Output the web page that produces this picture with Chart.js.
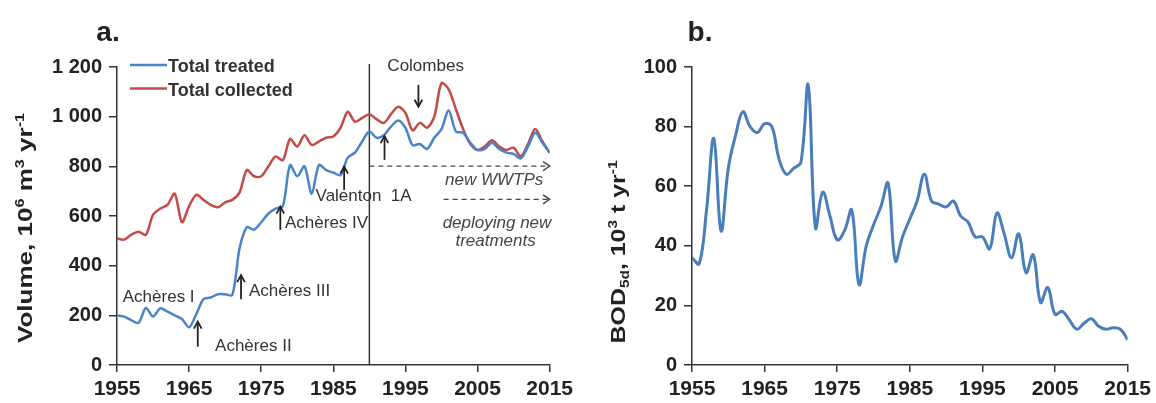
<!DOCTYPE html>
<html>
<head>
<meta charset="utf-8">
<script src="https://cdn.jsdelivr.net/npm/chart.js@4.4.0/dist/chart.umd.min.js"></script>
<style>
  body { margin: 0; background: #fff; }
  #wrap { position: relative; width: 1156px; height: 403px; }
  #chartA { position: absolute; left: 0; top: 0; }
  #chartB { position: absolute; left: 578px; top: 0; }
</style>
</head>
<body>
<div id="wrap">
  <canvas id="chartA" width="578" height="403"></canvas>
  <canvas id="chartB" width="578" height="403"></canvas>
</div>
<script>
var years = [1955, 1956, 1957, 1958, 1959, 1960, 1961, 1962, 1963, 1964,
  1965, 1966, 1967, 1968, 1969, 1970, 1971, 1972, 1973, 1974,
  1975, 1976, 1977, 1978, 1979, 1980, 1981, 1982, 1983, 1984,
  1985, 1986, 1987, 1988, 1989, 1990, 1991, 1992, 1993, 1994,
  1995, 1996, 1997, 1998, 1999, 2000, 2001, 2002, 2003, 2004,
  2005, 2006, 2007, 2008, 2009, 2010, 2011, 2012, 2013, 2014, 2015];

// 10^6 m3 / yr
var treated = [200, 195, 180, 170, 230, 195, 228, 215, 200, 185,
  152, 205, 265, 272, 285, 285, 282, 470, 555, 545,
  575, 610, 630, 640, 805, 760, 800, 690, 805, 785,
  775, 765, 835, 855, 900, 940, 915, 925, 960, 985,
  955, 885, 890, 870, 915, 950, 1025, 940, 935, 895,
  866, 870, 895, 870, 855, 850, 832, 880, 935, 895, 855];
var collected = [510, 505, 525, 537, 524, 605, 630, 645, 690, 575,
  640, 685, 665, 645, 635, 655, 665, 695, 785, 760,
  760, 800, 840, 825, 910, 880, 925, 886, 900, 915,
  920, 955, 1020, 980, 995, 1010, 990, 975, 1010, 1040,
  1015, 945, 975, 955, 1000, 1135, 1110, 1030, 950, 890,
  866, 880, 905, 880, 866, 875, 840, 890, 950, 900, 855];

// 10^3 t / yr
var bod = [36, 34, 52, 76, 45, 66, 77, 85, 80, 78,
  81, 80, 69, 64, 66, 68, 94, 46, 58, 50,
  42, 45, 52, 27, 40, 47, 53, 61, 35, 43,
  49, 55, 64, 55, 54, 53, 55, 50, 48, 43,
  43, 39, 51, 44, 36, 44, 31, 37, 21, 26,
  17, 18, 15, 12, 14, 15.5, 13, 12, 12.5, 12, 8.5];

var yearTicks = [1955, 1965, 1975, 1985, 1995, 2005, 2015];
var volumeTicks = [0, 200, 400, 600, 800, 1000, 1200];
var bodTicks = [0, 20, 40, 60, 80, 100];

// annotations: [year, from, to]
var upArrows = [[1966.2, 74, 175], [1972.2, 265, 362], [1977.65, 544, 638], [1986.5, 705, 799], [1992.1, 826, 922]];
var downArrows = [[1996.8, 1128, 1040]];
var labels = [
  ['Achères I', 1955.8, 272, 'left'],
  ['Achères II', 1968.6, 74, 'left'],
  ['Achères III', 1973.3, 295, 'left'],
  ['Achères IV', 1978.3, 571, 'left'],
  ['Valenton  1A', 1989.2, 678, 'center'],
  ['Colombes', 1997.8, 1201, 'center']
];
var italicLabels = [
  ['new WWTPs', 2007.3, 742],
  ['deploying new', 2007.7, 571],
  ['treatments', 2007.5, 497]
];
var dashedArrows = [[1990, 2015, 801], [2000.3, 2015, 667]];

var fam = "'Liberation Sans', Arial, sans-serif";
Chart.defaults.font.family = fam;
Chart.defaults.color = '#222';

function pts(ys) {
  return years.map(function(yr, i) { return {x: yr, y: ys[i]}; });
}

function spaced(v) {
  return String(v).replace(/\B(?=(\d{3})+(?!\d))/g, ' ');
}

function head(ctx, x1, y1, x2, y2, len, ang) {
  var a = Math.atan2(y2 - y1, x2 - x1);
  ctx.beginPath();
  ctx.moveTo(x2 - len * Math.cos(a - ang), y2 - len * Math.sin(a - ang));
  ctx.lineTo(x2, y2);
  ctx.lineTo(x2 - len * Math.cos(a + ang), y2 - len * Math.sin(a + ang));
  ctx.stroke();
}

// rotated axis title with sub/superscripts
function drawRich(ctx, parts, cx, cy, size, target) {
  ctx.save();
  ctx.translate(cx, cy);
  ctx.rotate(-Math.PI / 2);
  var total = 0;
  parts.forEach(function(p) {
    ctx.font = 'bold ' + (p.s ? size * 0.62 : size) + 'px ' + fam;
    p.w = ctx.measureText(p.t).width;
    total += p.w;
  });
  ctx.scale(target / total, 1);
  var x = -total / 2;
  ctx.fillStyle = '#222';
  ctx.textBaseline = 'alphabetic';
  parts.forEach(function(p) {
    ctx.font = 'bold ' + (p.s ? size * 0.62 : size) + 'px ' + fam;
    var dy = p.s == 'sup' ? -size * 0.42 : (p.s == 'sub' ? size * 0.2 : 0);
    ctx.fillText(p.t, x, size * 0.36 + dy);
    x += p.w;
  });
  ctx.restore();
}

function scalesFor(yMax, yTicks, yWidth) {
  return {
    x: {
      type: 'linear', min: 1955, max: 2015,
      afterBuildTicks: function(axis) { axis.ticks = yearTicks.map(function(v) { return {value: v}; }); },
      afterFit: function(axis) { axis.height = 38; },
      ticks: {font: {size: 21, weight: 'bold'}, padding: 5, maxRotation: 0, callback: function(v) { return String(v); }},
      grid: {drawOnChartArea: false, tickLength: 7, color: '#333', lineWidth: 1.5},
      border: {color: '#333', width: 1.5}
    },
    y: {
      min: 0, max: yMax,
      afterBuildTicks: function(axis) { axis.ticks = yTicks.map(function(v) { return {value: v}; }); },
      afterFit: function(axis) { axis.width = yWidth; },
      ticks: {font: {size: 20, weight: 'bold'}, padding: 7, callback: function(v) { return spaced(v); }},
      grid: {drawOnChartArea: false, tickLength: 8, color: '#333', lineWidth: 1.5},
      border: {color: '#333', width: 1.5}
    }
  };
}

var annotA = {
  id: 'annotA',
  beforeDatasetsDraw: function(chart) {
    var ctx = chart.ctx, sx = chart.scales.x, sy = chart.scales.y;
    ctx.save();
    ctx.strokeStyle = '#333';
    ctx.lineWidth = 1.5;
    ctx.beginPath();
    ctx.moveTo(sx.getPixelForValue(1990), sy.getPixelForValue(0));
    ctx.lineTo(sx.getPixelForValue(1990), sy.getPixelForValue(1212));
    ctx.stroke();
    ctx.restore();
  },
  afterDraw: function(chart) {
    var ctx = chart.ctx, sx = chart.scales.x, sy = chart.scales.y;
    ctx.save();
    ctx.strokeStyle = '#222';
    ctx.lineWidth = 1.8;
    upArrows.concat(downArrows).forEach(function(a) {
      var x = sx.getPixelForValue(a[0]);
      var y1 = sy.getPixelForValue(a[1]), y2 = sy.getPixelForValue(a[2]);
      ctx.beginPath();
      ctx.moveTo(x, y1);
      ctx.lineTo(x, y2);
      ctx.stroke();
      head(ctx, x, y1, x, y2, 8, 0.5);
    });
    ctx.strokeStyle = '#444';
    ctx.lineWidth = 1.4;
    dashedArrows.forEach(function(a) {
      var x1 = sx.getPixelForValue(a[0]), x2 = sx.getPixelForValue(a[1]), y = sy.getPixelForValue(a[2]);
      ctx.setLineDash([5, 4]);
      ctx.beginPath();
      ctx.moveTo(x1, y);
      ctx.lineTo(x2, y);
      ctx.stroke();
      ctx.setLineDash([]);
      head(ctx, x1, y, x2, y, 8, 0.6);
    });

    ctx.fillStyle = '#333';
    ctx.textBaseline = 'middle';
    ctx.font = '17px ' + fam;
    labels.forEach(function(l) {
      ctx.textAlign = l[3];
      ctx.fillText(l[0], sx.getPixelForValue(l[1]), sy.getPixelForValue(l[2]));
    });
    ctx.fillStyle = '#444';
    ctx.font = 'italic 17px ' + fam;
    ctx.textAlign = 'center';
    italicLabels.forEach(function(l) {
      ctx.fillText(l[0], sx.getPixelForValue(l[1]), sy.getPixelForValue(l[2]));
    });

    // legend
    ctx.font = 'bold 18px ' + fam;
    ctx.textAlign = 'left';
    ctx.textBaseline = 'alphabetic';
    chart.data.datasets.forEach(function(ds, i) {
      var y = 65 + i * 23.5;
      ctx.strokeStyle = ds.borderColor;
      ctx.lineWidth = 2.5;
      ctx.beginPath();
      ctx.moveTo(130, y);
      ctx.lineTo(167, y);
      ctx.stroke();
      ctx.fillStyle = '#333';
      ctx.fillText(ds.label, 168, y + 7);
    });

    ctx.fillStyle = '#222';
    ctx.font = 'bold 28px ' + fam;
    ctx.textAlign = 'center';
    ctx.textBaseline = 'middle';
    ctx.fillText('a.', 108, 33);
    ctx.restore();

    drawRich(ctx, [{t: 'Volume, 10'}, {t: '6', s: 'sup'}, {t: ' m'}, {t: '3', s: 'sup'}, {t: ' yr'}, {t: '-1', s: 'sup'}], 25, 228, 20, 230);
  }
};

var annotB = {
  id: 'annotB',
  afterDraw: function(chart) {
    var ctx = chart.ctx;
    ctx.save();
    ctx.fillStyle = '#222';
    ctx.font = 'bold 28px ' + fam;
    ctx.textAlign = 'center';
    ctx.textBaseline = 'middle';
    ctx.fillText('b.', 122, 33);
    ctx.restore();
    drawRich(ctx, [{t: 'BOD'}, {t: '5d', s: 'sub'}, {t: ', 10'}, {t: '3', s: 'sup'}, {t: ' t yr'}, {t: '-1', s: 'sup'}], 40, 252, 20, 183);
  }
};

new Chart(document.getElementById('chartA').getContext('2d'), {
  type: 'line',
  data: {
    datasets: [
      {label: 'Total treated', data: pts(treated), borderColor: '#4a84c8', borderWidth: 2.5, pointRadius: 0, tension: 0.3, order: 1},
      {label: 'Total collected', data: pts(collected), borderColor: '#c44a48', borderWidth: 2.5, pointRadius: 0, tension: 0.3, order: 2}
    ]
  },
  options: {
    responsive: false,
    animation: false,
    layout: {padding: {left: 0, right: 25, top: 67, bottom: 0}},
    plugins: {legend: {display: false}, tooltip: {enabled: false}},
    scales: scalesFor(1200, volumeTicks, 117)
  },
  plugins: [annotA]
});

new Chart(document.getElementById('chartB').getContext('2d'), {
  type: 'line',
  data: {
    datasets: [
      {label: 'BOD5d', data: pts(bod), borderColor: '#4a7ebb', borderWidth: 3, pointRadius: 0, tension: 0.4}
    ]
  },
  options: {
    responsive: false,
    animation: false,
    layout: {padding: {left: 0, right: 28, top: 67, bottom: 0}},
    plugins: {legend: {display: false}, tooltip: {enabled: false}},
    scales: scalesFor(100, bodTicks, 114)
  },
  plugins: [annotB]
});
</script>
</body>
</html>
